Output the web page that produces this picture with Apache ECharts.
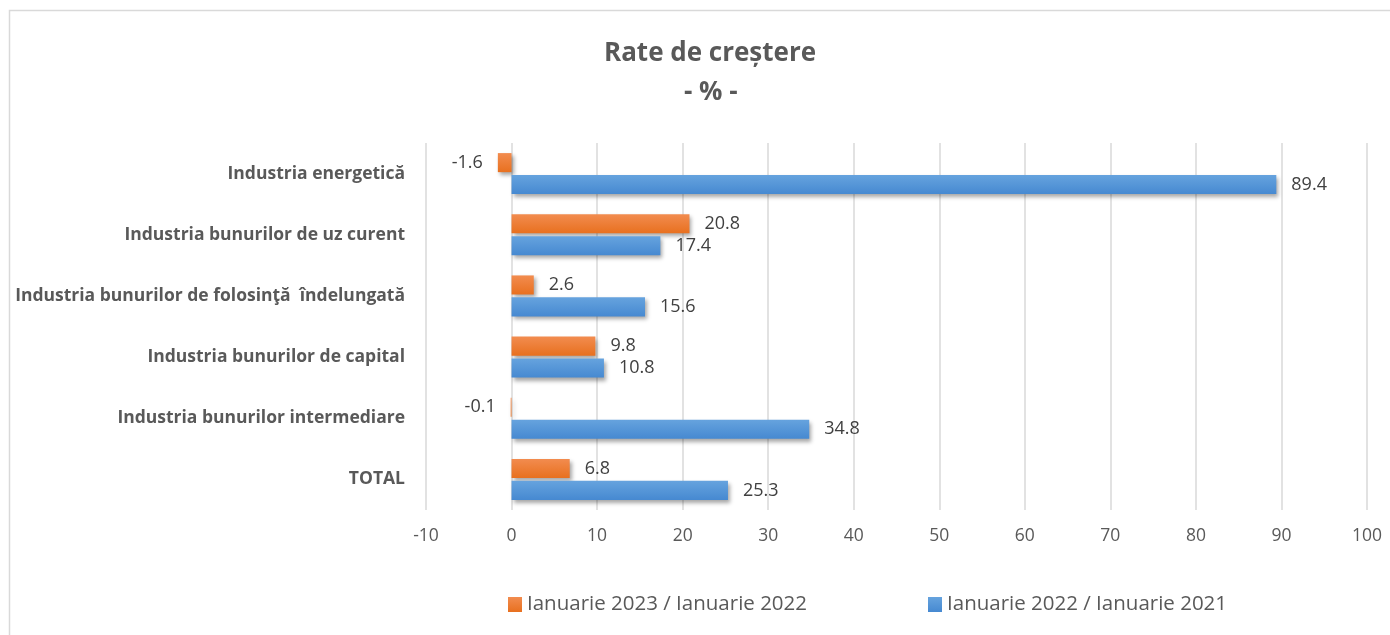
<!DOCTYPE html>
<html>
<head>
<meta charset="utf-8">
<script src="https://cdn.jsdelivr.net/npm/echarts@6/dist/echarts.min.js"></script>
<style>
  html, body { margin: 0; padding: 0; background: #fff; }
  #chart { width: 1390px; height: 635px; }
</style>
</head>
<body>
<div id="chart"></div>
<script>
const categories = [
  'Industria energetică',
  'Industria bunurilor de uz curent',
  'Industria bunurilor de folosinţă  îndelungată',
  'Industria bunurilor de capital',
  'Industria bunurilor intermediare',
  'TOTAL'
]
const seriesNames = ['Ianuarie 2023 / Ianuarie 2022', 'Ianuarie 2022 / Ianuarie 2021']
const values2023 = [-1.6, 20.8, 2.6, 9.8, -0.1, 6.8]
const values2022 = [89.4, 17.4, 15.6, 10.8, 34.8, 25.3]

const FONT = '"Open Sans", "Noto Sans", sans-serif'
const TEXT = '#595959'

function grad(top, bottom) {
  return new echarts.graphic.LinearGradient(0, 0, 0, 1, [
    { offset: 0, color: top },
    { offset: 1, color: bottom }
  ])
}

function toItems(values) {
  return values.map(v => ({
    value: v,
    label: { position: v < 0 ? 'left' : 'right' }
  }))
}

function barSeries(name, values, top, bottom) {
  return {
    name,
    type: 'bar',
    data: toItems(values),
    barGap: '15%',
    barCategoryGap: '33%',
    itemStyle: {
      color: grad(top, bottom),
      shadowBlur: 4,
      shadowOffsetX: 2,
      shadowOffsetY: 3,
      shadowColor: 'rgba(0,0,0,0.35)'
    },
    label: {
      show: true,
      distance: 15,
      color: '#404040',
      fontFamily: FONT,
      fontSize: 18,
      formatter: p => p.value.toFixed(1)
    }
  }
}

const chart = echarts.init(document.getElementById('chart'))

chart.setOption({
  backgroundColor: '#fff',
  animation: false,
  graphic: [{
    type: 'rect',
    shape: { x: 9.5, y: 10.5, width: 1400, height: 640 },
    style: { fill: 'none', stroke: '#d9d9d9', lineWidth: 1.5 },
    silent: true
  }],
  title: [
    {
      text: 'Rate de creștere',
      left: 599,
      top: 36,
      textStyle: { color: TEXT, fontFamily: FONT, fontSize: 26, fontWeight: 'bold' }
    },
    {
      text: '- % -',
      left: 679,
      top: 75,
      textStyle: { color: TEXT, fontFamily: FONT, fontSize: 26, fontWeight: 'bold' }
    }
  ],
  legend: {
    data: seriesNames,
    left: 503,
    top: 589,
    itemWidth: 14,
    itemHeight: 15,
    itemGap: 121,
    icon: 'rect',
    textStyle: { color: TEXT, fontFamily: FONT, fontSize: 20.5 }
  },
  grid: {
    left: 426,
    right: 23,
    top: 143,
    bottom: 125
  },
  xAxis: {
    type: 'value',
    min: -10,
    max: 100,
    interval: 10,
    axisLine: { show: false },
    axisTick: { show: false },
    axisLabel: { color: TEXT, fontFamily: FONT, fontSize: 17.5, margin: 17 },
    splitLine: { lineStyle: { color: '#d9d9d9', width: 1.5 } }
  },
  yAxis: {
    type: 'category',
    data: categories,
    inverse: true,
    axisLine: { show: false, onZero: false },
    axisTick: { show: false },
    axisLabel: {
      color: TEXT,
      fontFamily: FONT,
      fontSize: 17.5,
      fontWeight: 'bold',
      margin: 21
    }
  },
  series: [
    barSeries(seriesNames[0], values2023, '#f28c4f', '#e8701f'),
    barSeries(seriesNames[1], values2022, '#66a3de', '#4689d1')
  ]
})
</script>
</body>
</html>
